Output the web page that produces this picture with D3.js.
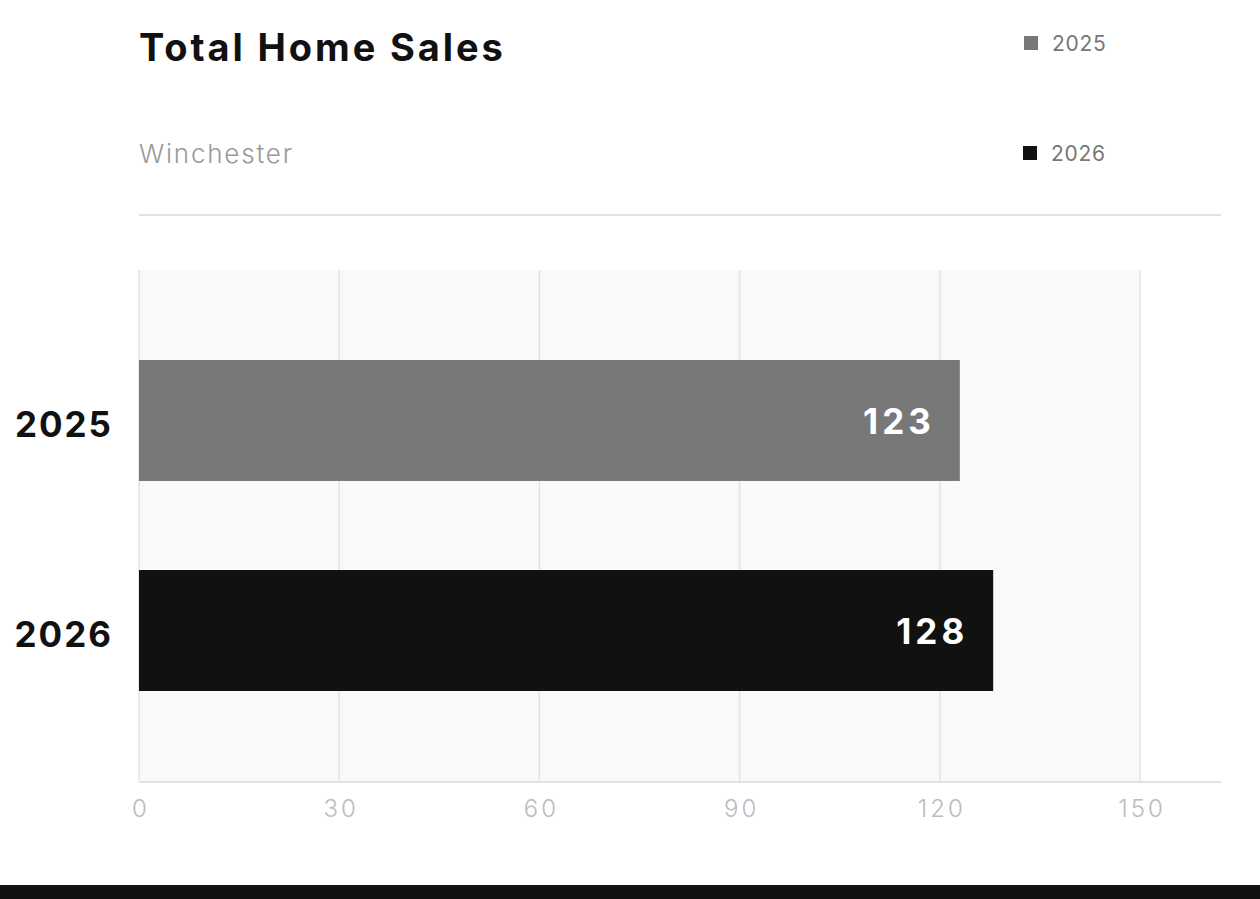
<!DOCTYPE html>
<html>
<head>
<meta charset="utf-8">
<script src="https://cdn.jsdelivr.net/npm/d3@7"></script>
<style>
  html, body { margin: 0; padding: 0; background: #fff; }
  svg { display: block; font-family: Inter, "Open Sans", sans-serif; }
</style>
</head>
<body>
<svg id="chart" width="1260" height="899"></svg>
<script>
const title = "Total Home Sales";
const subtitle = "Winchester";
const categories = ["2025", "2026"];
const values = [123, 128];
const colors = ["#787878", "#111111"];
const xTicks = [0, 30, 60, 90, 120, 150];

const svg = d3.select("#chart");
const W = 1260, H = 899;
const plot = { left: 139, right: 1140, top: 270, bottom: 781, axisEnd: 1221 };

const x = d3.scaleLinear().domain([0, 150]).range([plot.left, plot.right]);
const y = d3.scaleBand().domain(categories).range([plot.top, plot.bottom])
  .paddingInner(0.424).paddingOuter(0.4286);

// Header
svg.append("text").attr("x", 139).attr("y", 61)
  .attr("font-size", 38).attr("font-weight", 700).attr("fill", "#111")
  .attr("letter-spacing", "2.9px")
  .text(title);
svg.append("text").attr("x", 139).attr("y", 163)
  .attr("font-size", 26).attr("font-weight", 300).attr("fill", "#999")
  .attr("letter-spacing", "1.8px")
  .text(subtitle);
svg.append("line").attr("x1", 139).attr("x2", plot.axisEnd)
  .attr("y1", 215).attr("y2", 215).attr("stroke", "#e2e2e2").attr("stroke-width", 2);

// Legend
const legend = svg.append("g");
categories.forEach((c, i) => {
  const ly = 43 + i * 110;
  legend.append("rect").attr("x", 1024 - i).attr("y", ly - 7).attr("width", 14).attr("height", 14)
    .attr("fill", colors[i]);
  legend.append("text").attr("x", 1052 - i).attr("y", ly).attr("dy", "0.36em")
    .attr("font-size", 21).attr("fill", "#777").attr("letter-spacing", "0.7px").text(c);
});

// Plot background
svg.append("rect").attr("x", plot.left).attr("y", plot.top)
  .attr("width", plot.right - plot.left).attr("height", plot.bottom - plot.top)
  .attr("fill", "#f9f9f9");

// Gridlines
svg.append("g").selectAll("line").data(xTicks).join("line")
  .attr("x1", d => x(d)).attr("x2", d => x(d))
  .attr("y1", plot.top).attr("y2", plot.bottom)
  .attr("stroke", "#e3e3e3").attr("stroke-width", 1.5);

// Bars
svg.append("g").selectAll("rect").data(categories).join("rect")
  .attr("x", x(0)).attr("y", d => y(d))
  .attr("width", (d, i) => x(values[i]) - x(0))
  .attr("height", y.bandwidth())
  .attr("fill", (d, i) => colors[i]);

// Value labels
svg.append("g").selectAll("text").data(categories).join("text")
  .attr("x", (d, i) => x(values[i]) - 25)
  .attr("y", d => y(d) + y.bandwidth() / 2)
  .attr("dy", "0.38em").attr("text-anchor", "end")
  .attr("font-size", 35).attr("font-weight", 700).attr("fill", "#fff")
  .attr("letter-spacing", "4px")
  .text((d, i) => values[i]);

// Y axis labels
const yAxis = d3.axisLeft(y).tickSize(0).tickPadding(26);
const yg = svg.append("g").attr("transform", `translate(${plot.left},0)`).call(yAxis);
yg.select(".domain").remove();
yg.selectAll("text").attr("font-size", 35).attr("font-weight", 700).attr("fill", "#111")
  .attr("font-family", "Inter, sans-serif").attr("letter-spacing", "2px").attr("dy", "0.48em");

// X axis
const xAxis = d3.axisBottom(x).tickValues(xTicks).tickSize(0).tickPadding(19);
const xg = svg.append("g").attr("transform", `translate(0,${plot.bottom})`).call(xAxis);
xg.select(".domain").remove();
xg.selectAll("text").attr("font-size", 24).attr("font-weight", 300).attr("fill", "#bbb")
  .attr("font-family", "Inter, sans-serif").attr("letter-spacing", "3px").attr("dx", "1.5px");
svg.append("line").attr("x1", plot.left).attr("x2", plot.axisEnd)
  .attr("y1", plot.bottom + 1).attr("y2", plot.bottom + 1)
  .attr("stroke", "#e2e2e2").attr("stroke-width", 2);

// Bottom band
svg.append("rect").attr("x", 0).attr("y", 885).attr("width", W).attr("height", H - 885)
  .attr("fill", "#111");
</script>
</body>
</html>
